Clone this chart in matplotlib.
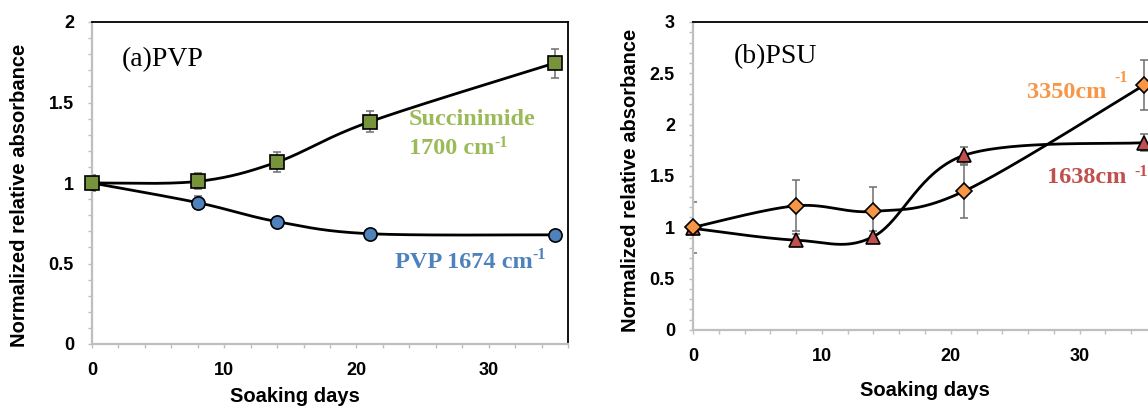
import numpy as np
import matplotlib
matplotlib.use("Agg")
import matplotlib.pyplot as plt
from matplotlib.ticker import MultipleLocator

plt.rcParams['font.family'] = ['Liberation Sans', 'DejaVu Sans']
plt.rcParams['font.weight'] = 'bold'
plt.rcParams['xtick.labelsize'] = 13
plt.rcParams['ytick.labelsize'] = 13

# ---- data ----
days = [0, 8, 14, 21, 35]

succ_vals = [1.00, 1.01, 1.13, 1.38, 1.745]
succ_err = [0.05, 0.05, 0.06, 0.065, 0.09]
pvp_vals = [1.00, 0.878, 0.76, 0.685, 0.678]
pvp_err = [0.03, 0.04, 0.025, 0.01, 0.01]

o3350_vals = [1.00, 1.21, 1.155, 1.35, 2.385]
o3350_err = [0.25, 0.25, 0.24, 0.26, 0.245]
r1638_vals = [0.99, 0.875, 0.91, 1.70, 1.825]
r1638_err = [0.02, 0.06, 0.05, 0.08, 0.08]

xlabel = "Soaking days"
ylabel = "Normalized relative absorbance"


def excel_smooth(x, y, n=60):
    """Bezier smoothing similar to spreadsheet 'smoothed line'."""
    P = np.column_stack([np.asarray(x, float), np.asarray(y, float)])
    m = len(P)
    out = []
    for i in range(m - 1):
        p0 = P[i - 1] if i > 0 else P[i]
        p1 = P[i]
        p2 = P[i + 1]
        p3 = P[i + 2] if i + 2 < m else P[i + 1]
        c1 = p1 + (p2 - p0) / 6.0
        c2 = p2 - (p3 - p1) / 6.0
        t = np.linspace(0, 1, n)[:, None]
        seg = ((1 - t) ** 3) * p1 + 3 * ((1 - t) ** 2) * t * c1 + 3 * (1 - t) * t ** 2 * c2 + t ** 3 * p2
        out.append(seg if i == 0 else seg[1:])
    S = np.vstack(out)
    return S[:, 0], S[:, 1]


W, H = 1148, 408
fig = plt.figure(figsize=(W / 100, H / 100), dpi=100)

ax1 = fig.add_axes([92 / W, 1 - 344 / H, 476 / W, 322 / H])
ax2 = fig.add_axes([693 / W, 1 - 330 / H, 464 / W, 308 / H])


def style(ax, ymax, ymajor):
    ax.set_xlim(0, 36)
    ax.set_ylim(0, ymax)
    ax.xaxis.set_major_locator(MultipleLocator(10))
    ax.xaxis.set_minor_locator(MultipleLocator(2))
    ax.yaxis.set_major_locator(MultipleLocator(ymajor))
    ax.yaxis.set_minor_locator(MultipleLocator(0.1))
    ax.yaxis.set_major_formatter(plt.FuncFormatter(lambda v, p: ('%g' % v)))
    for s in ['left', 'bottom']:
        ax.spines[s].set_color('#BFBFBF')
        ax.spines[s].set_linewidth(1.6)
    for s in ['top', 'right']:
        ax.spines[s].set_color('black')
        ax.spines[s].set_linewidth(1.3)
    ax.tick_params(which='both', direction='out', length=3, width=1, color='#BFBFBF',
                   top=False, right=False)
    ax.tick_params(axis='y', which='major', pad=10)
    ax.tick_params(axis='x', which='major', pad=10)


def series(ax, x, y, err, marker, face, ms, z=0):
    ax.errorbar(x, y, yerr=err, fmt='none', ecolor='#6E6E6E', elinewidth=1.1,
                capsize=3, capthick=1.1, zorder=2)
    sx, sy = excel_smooth(x, y)
    ax.plot(sx, sy, color='black', lw=2.0, zorder=3, solid_capstyle='round')
    ax.plot(x, y, linestyle='none', marker=marker, markersize=ms,
            markerfacecolor=face, markeredgecolor='black', markeredgewidth=1.2,
            zorder=4 + z, clip_on=False)


# ---- panel (a) ----
style(ax1, 2, 0.5)
series(ax1, days, succ_vals, succ_err, 's', '#77933C', 9.5, z=0.1)
series(ax1, days, pvp_vals, pvp_err, 'o', '#4F81BD', 9.5)

# ---- panel (b) ----
style(ax2, 3, 0.5)
series(ax2, days, r1638_vals, r1638_err, '^', '#C0504D', 10.5)
series(ax2, days, o3350_vals, o3350_err, 'D', '#F79646', 8.5, z=0.1)


def ftext(x, y, s, **kw):
    return fig.text(x / W, 1 - y / H, s, **kw)


renderer = fig.canvas.get_renderer()
ann = dict(family='Liberation Serif', weight='bold', fontsize=17.5, ha='left', va='baseline')


def sup_label(x, ybase, main, color, gap, raise_px):
    t = ftext(x, ybase, main, color=color, **ann)
    bb = t.get_window_extent(renderer)
    fig.text((bb.x1 + gap) / W, (H - ybase + raise_px) / H, "-1", color=color,
             family='Liberation Serif', weight='bold', fontsize=11.5, ha='left', va='baseline')


ftext(409, 125, "Succinimide", color='#9BBB59', **ann)
sup_label(409, 154, "1700 cm", '#9BBB59', 0, 7)
sup_label(395, 268, "PVP 1674 cm", '#4F81BD', 0, 9)
sup_label(1027, 98, "3350cm", '#F79646', 8, 16)
sup_label(1047, 183, "1638cm", '#C0504D', 8, 7)

title = dict(family='Liberation Serif', weight='normal', fontsize=20, ha='left', va='center')
ftext(122, 60, "(a)PVP", **title)
ftext(734, 57, "(b)PSU", **title)

lab = dict(family='Liberation Sans', weight='bold', fontsize=14.5, ha='center', va='center')
ftext(20, 195, ylabel, rotation=90, **lab)
ftext(631, 180, ylabel, rotation=90, **lab)
ftext(295, 397, xlabel, **lab)
ftext(925, 390, xlabel, **lab)

fig.savefig("out.png", dpi=100)
